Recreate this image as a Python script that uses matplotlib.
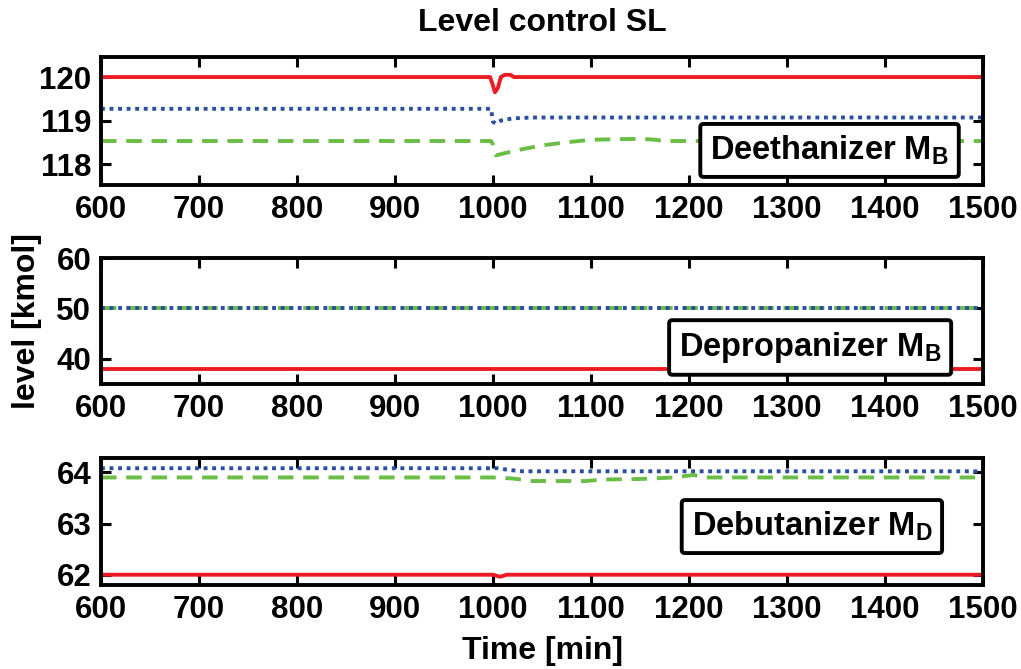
import matplotlib
matplotlib.use("Agg")
import matplotlib.pyplot as plt

plt.rcParams['font.family'] = ['Liberation Sans', 'DejaVu Sans']
plt.rcParams['font.weight'] = 'bold'
plt.rcParams['mathtext.fontset'] = 'custom'
plt.rcParams['mathtext.rm'] = 'Liberation Sans:bold'
plt.rcParams['mathtext.it'] = 'Liberation Sans:bold'
plt.rcParams['mathtext.bf'] = 'Liberation Sans:bold'
plt.rcParams['mathtext.default'] = 'bf'

RED = '#ED1C24'
BLUE = '#2B4EA2'
GREEN = '#6ABD45'

# --- Deethanizer M_B (top) ---
t_deeth_red = [600, 997, 1000, 1002, 1005, 1008, 1012, 1018, 1021, 1500]
deeth_red = [120.0, 120.0, 119.8, 119.65, 119.75, 120.0, 120.05, 120.05, 120.0, 120.0]
t_deeth_blue = [600, 998, 1000, 1003, 1008, 1020, 1040, 1500]
deeth_blue = [119.27, 119.27, 118.97, 118.93, 119.0, 119.05, 119.07, 119.07]
t_deeth_green = [600, 998, 1000, 1003, 1010, 1025, 1050, 1075, 1100, 1150, 1165, 1175, 1500]
deeth_green = [118.53, 118.53, 118.45, 118.2, 118.24, 118.32, 118.43, 118.5, 118.56, 118.58, 118.56, 118.53, 118.53]

# --- Depropanizer M_B (middle) ---
t_deprop = [600, 1500]
deprop_red = [38.0, 38.0]
deprop_blue = [50.1, 50.1]
deprop_green = [50.1, 50.1]

# --- Debutanizer M_D (bottom) ---
t_debut_red = [600, 1000, 1007, 1014, 1500]
debut_red = [62.0, 62.0, 61.96, 62.0, 62.0]
t_debut_blue = [600, 1005, 1015, 1030, 1500]
debut_blue = [64.08, 64.08, 64.05, 64.02, 64.02]
t_debut_green = [600, 1000, 1020, 1040, 1095, 1112, 1150, 1185, 1205, 1215, 1500]
debut_green = [63.9, 63.9, 63.88, 63.83, 63.83, 63.86, 63.87, 63.9, 63.95, 63.9, 63.9]

xticks = [600, 700, 800, 900, 1000, 1100, 1200, 1300, 1400, 1500]

fig = plt.figure(figsize=(10.21, 6.69), dpi=100)
ax1 = fig.add_axes([0.0989, 0.7235, 0.8639, 0.1913])
ax2 = fig.add_axes([0.0989, 0.4260, 0.8639, 0.1883])
ax3 = fig.add_axes([0.0989, 0.1256, 0.8639, 0.1898])

lw = 2.8
ax1.plot(t_deeth_red, deeth_red, color=RED, lw=lw)
ax1.plot(t_deeth_blue, deeth_blue, color=BLUE, lw=lw, ls=(0, (1, 1.2)))
ax1.plot(t_deeth_green, deeth_green, color=GREEN, lw=lw, ls=(0, (4, 2.5)))
ax1.set_ylim(117.52, 120.46)
ax1.set_yticks([118, 119, 120])

ax2.plot(t_deprop, deprop_red, color=RED, lw=lw)
ax2.plot(t_deprop, deprop_green, color=GREEN, lw=lw, ls=(0, (4, 2.5)))
ax2.plot(t_deprop, deprop_blue, color=BLUE, lw=lw, ls=(0, (1, 1.2)))
ax2.set_ylim(35, 60)
ax2.set_yticks([40, 50, 60])

ax3.plot(t_debut_red, debut_red, color=RED, lw=lw)
ax3.plot(t_debut_blue, debut_blue, color=BLUE, lw=lw, ls=(0, (1, 1.2)))
ax3.plot(t_debut_green, debut_green, color=GREEN, lw=lw, ls=(0, (4, 2.5)))
ax3.set_ylim(61.8, 64.28)
ax3.set_yticks([62, 63, 64])

for ax in (ax1, ax2, ax3):
    ax.set_xlim(600, 1500)
    ax.set_xticks(xticks)
    ax.tick_params(direction='in', length=7, width=2.2, top=True, right=True,
                   labelsize=22.5, pad=7)
    for sp in ax.spines.values():
        sp.set_linewidth(2.8)

box = dict(boxstyle='round,pad=0.3,rounding_size=0.1', facecolor='white',
           edgecolor='black', linewidth=2.8)
ax1.text(0.826, 0.27, 'Deethanizer M$_B$', transform=ax1.transAxes,
         ha='center', va='center', fontsize=23.5, fontweight='bold', bbox=box, zorder=5)
ax2.text(0.804, 0.29, 'Depropanizer M$_B$', transform=ax2.transAxes,
         ha='center', va='center', fontsize=23.5, fontweight='bold', bbox=box, zorder=5)
ax3.text(0.806, 0.46, 'Debutanizer M$_D$', transform=ax3.transAxes,
         ha='center', va='center', fontsize=23.5, fontweight='bold', bbox=box, zorder=5)

fig.text(0.531, 0.965, 'Level control SL', ha='center', va='center',
         fontsize=23, fontweight='bold')
fig.text(0.531, 0.027, 'Time [min]', ha='center', va='center',
         fontsize=23, fontweight='bold')
fig.text(0.026, 0.52, 'level [kmol]', ha='center', va='center', rotation=90,
         fontsize=23, fontweight='bold')

fig.savefig('out.png', dpi=100)
